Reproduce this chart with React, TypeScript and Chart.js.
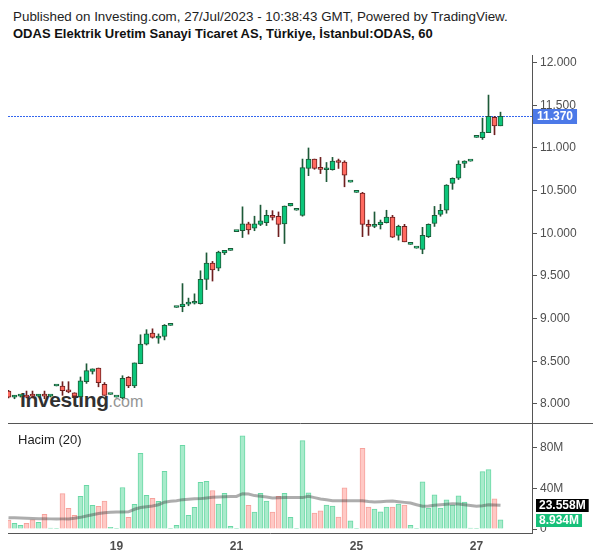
import { useEffect, useRef } from 'react';
import { Chart, registerables } from 'chart.js';

Chart.register(...registerables);

const FONT = '"Liberation Sans", Arial, Helvetica, sans-serif';

// Hourly bars, Jul 17 (partial) .. Jul 27 (partial); index = bar number
const opens = [
  8.15, 8.08, 8.09, 8.10, 8.10, 8.09, 8.10, 8.09, 8.21, 8.21,
  8.155, 8.13, 8.085, 8.26, 8.38, 8.42, 8.23, 8.11, 8.08, 8.07,
  8.31, 8.21, 8.47, 8.70, 8.83, 8.77, 8.79, 8.92, 9.13, 9.14,
  9.17, 9.18, 9.175, 9.46, 9.65, 9.59, 9.77, 9.80, 10.02, 10.03,
  10.11, 10.06, 10.105, 10.125, 10.21, 10.20, 10.11, 10.32, 10.27, 10.21,
  10.76, 10.87, 10.76, 10.745, 10.745, 10.85, 10.835, 10.60, 10.48, 10.47,
  10.10, 10.08, 10.10, 10.125, 10.19, 9.975, 10.08, 9.87, 9.825, 9.81,
  9.96, 10.115, 10.22, 10.27, 10.585, 10.645, 10.82, 10.845, 11.125, 11.12,
  11.18, 11.36, 11.26,
];
const highs = [
  8.16, 8.10, 8.10, 8.15, 8.15, 8.11, 8.15, 8.10, 8.21, 8.26,
  8.26, 8.13, 8.315, 8.47, 8.41, 8.42, 8.25, 8.11, 8.08, 8.33,
  8.32, 8.48, 8.81, 8.87, 8.88, 8.82, 8.93, 8.92, 9.13, 9.41,
  9.24, 9.29, 9.56, 9.77, 9.67, 9.79, 9.80, 9.80, 10.02, 10.31,
  10.13, 10.20, 10.33, 10.27, 10.265, 10.25, 10.32, 10.35, 10.27, 10.87,
  11.00, 10.87, 10.89, 10.83, 10.89, 10.87, 10.85, 10.60, 10.48, 10.48,
  10.155, 10.25, 10.155, 10.27, 10.21, 10.095, 10.105, 9.87, 9.825, 10.07,
  10.11, 10.315, 10.34, 10.57, 10.65, 10.85, 10.85, 10.845, 11.125, 11.35,
  11.62, 11.37, 11.42,
];
const lows = [
  8.07, 8.06, 8.08, 8.07, 8.07, 8.08, 8.06, 8.08, 8.21, 8.10,
  8.13, 8.07, 8.07, 8.24, 8.35, 8.20, 8.10, 8.11, 8.08, 8.06,
  8.19, 8.19, 8.47, 8.69, 8.77, 8.71, 8.75, 8.92, 9.13, 9.08,
  9.15, 9.17, 9.17, 9.34, 9.44, 9.56, 9.75, 9.80, 10.02, 9.95,
  9.99, 10.03, 10.09, 10.09, 10.155, 9.96, 9.88, 10.32, 10.27, 10.20,
  10.675, 10.75, 10.70, 10.605, 10.74, 10.76, 10.545, 10.60, 10.48, 9.96,
  9.975, 10.065, 10.05, 10.12, 9.95, 9.92, 9.90, 9.87, 9.825, 9.76,
  9.95, 10.08, 10.20, 10.235, 10.515, 10.63, 10.77, 10.845, 11.125, 11.10,
  11.18, 11.155, 11.26,
];
const closes = [
  8.08, 8.09, 8.10, 8.08, 8.09, 8.10, 8.09, 8.10, 8.21, 8.155,
  8.14, 8.09, 8.27, 8.39, 8.41, 8.25, 8.10, 8.11, 8.08, 8.30,
  8.21, 8.48, 8.70, 8.82, 8.78, 8.79, 8.92, 8.92, 9.13, 9.17,
  9.18, 9.19, 9.46, 9.65, 9.57, 9.78, 9.80, 9.80, 10.02, 10.11,
  10.04, 10.11, 10.145, 10.21, 10.185, 10.105, 10.32, 10.35, 10.27, 10.77,
  10.87, 10.76, 10.75, 10.76, 10.845, 10.83, 10.68, 10.60, 10.48, 10.105,
  10.08, 10.10, 10.13, 10.19, 9.955, 10.08, 9.90, 9.87, 9.825, 9.975,
  10.105, 10.21, 10.27, 10.565, 10.645, 10.81, 10.845, 10.845, 11.125, 11.185,
  11.37, 11.26, 11.37,
];
// Volume in millions
const volumes = [
  8.9, 5.6, 3.7, 5.6, 9.0, 6.6, 14.5, 1.0, 0.4, 35.0,
  20.4, 13.5, 32.3, 43.1, 23.4, 22.4, 27.6, 1.6, 0.4, 41.0,
  11.5, 24.4, 74.7, 33.2, 30.3, 27.3, 56.9, 0.7, 3.6, 82.6,
  13.5, 21.4, 46.0, 47.0, 38.0, 24.7, 35.3, 2.6, 0.4, 92.0,
  23.4, 16.8, 35.3, 27.6, 16.8, 32.3, 35.3, 11.5, 0.4, 87.3,
  35.7, 15.7, 18.0, 23.7, 22.7, 11.7, 40.7, 8.0, 0.4, 79.7,
  21.7, 19.7, 17.0, 21.7, 21.7, 24.7, 23.7, 3.7, 0.4, 46.7,
  20.7, 33.7, 20.7, 28.7, 23.7, 32.7, 26.7, 1.0, 0.4, 56.7,
  58.7, 29.7, 8.934,
];
// Volume 20-period average, millions
const volumeMA = [
  11.2, 11.0, 10.8, 10.5, 10.3, 10.2, 10.1, 10.0, 9.9, 10.0,
  10.0, 10.6, 11.5, 12.8, 14.0, 15.3, 16.0, 16.5, 16.9, 16.9,
  17.0, 19.5, 21.2, 22.0, 22.7, 24.0, 26.5, 27.3, 28.0, 29.0,
  29.5, 29.8, 30.0, 30.6, 31.3, 31.5, 31.8, 32.0, 32.2, 34.9,
  34.5, 33.0, 32.3, 31.5, 30.6, 30.8, 31.0, 31.0, 31.0, 31.0,
  32.3, 31.0, 29.6, 28.8, 28.0, 28.0, 28.0, 28.0, 28.0, 28.0,
  27.2, 26.7, 27.0, 27.3, 27.6, 27.0, 26.3, 25.7, 24.0, 22.4,
  22.8, 23.4, 24.0, 24.5, 25.0, 24.6, 24.0, 23.3, 22.4, 23.0,
  24.0, 23.8, 23.558,
];

const dayTickIndex = [18, 38, 58, 78];
const dayTickLabels = ['19', '21', '25', '27'];
const priceTicks = [8, 8.5, 9, 9.5, 10, 10.5, 11, 11.5, 12];
const volumeTicks = [0, 40, 80];
const lastPrice = 11.37;
const lastVolume = 8.934;
const lastVolumeMA = 23.558;

const UP_FILL = '#0cc57a';
const UP_LINE = '#1d5a38';
const DOWN_FILL = '#ff6a60';
const DOWN_LINE = '#6e1f1f';
const VOL_UP_FILL = '#a8ebcb';
const VOL_UP_LINE = '#6ad8a6';
const VOL_DOWN_FILL = '#ffc9c5';
const VOL_DOWN_LINE = '#f6a29c';

const X_MIN = -0.5 / 6;
const X_MAX = X_MIN + 524 / 6;
const AXIS_W = 68;

export default function App() {
  const priceRef = useRef<HTMLCanvasElement>(null);
  const volRef = useRef<HTMLCanvasElement>(null);

  useEffect(() => {
    Chart.defaults.font.family = FONT;
    const up = closes.map((c, i) => c >= opens[i]);

    const noPad = (s: any) => {
      s.paddingTop = 0;
      s.paddingBottom = 0;
    };

    const priceOverlay = {
      id: 'priceOverlay',
      beforeDatasetsDraw(chart: any) {
        const { ctx, chartArea, scales } = chart;
        const y = Math.round(scales.y.getPixelForValue(lastPrice)) + 0.5;
        ctx.save();
        ctx.strokeStyle = '#3366ee';
        ctx.lineWidth = 1;
        ctx.setLineDash([2, 1]);
        ctx.beginPath();
        ctx.moveTo(chartArea.left, y);
        ctx.lineTo(chartArea.right, y);
        ctx.stroke();
        ctx.restore();
      },
      afterDraw(chart: any) {
        const { ctx, chartArea, scales } = chart;
        const y = Math.round(scales.y.getPixelForValue(lastPrice)) + 0.5;
        ctx.save();
        ctx.font = 'bold 12px ' + FONT;
        const text = lastPrice.toFixed(3);
        const w = ctx.measureText(text).width + 8;
        ctx.fillStyle = '#4c79e8';
        ctx.fillRect(chartArea.right + 1, y - 7.5, w, 15);
        ctx.fillStyle = '#ffffff';
        ctx.textBaseline = 'middle';
        ctx.textAlign = 'left';
        ctx.fillText(text, chartArea.right + 5, y + 0.5);
        ctx.strokeStyle = '#555555';
        ctx.lineWidth = 1;
        ctx.beginPath();
        ctx.moveTo(chartArea.left, chartArea.bottom - 0.5);
        ctx.lineTo(593, chartArea.bottom - 0.5);
        ctx.stroke();
        ctx.restore();
      },
    };

    const volOverlay = {
      id: 'volOverlay',
      afterDraw(chart: any) {
        const { ctx, chartArea, scales } = chart;
        ctx.save();
        ctx.font = 'bold 12px ' + FONT;
        ctx.textBaseline = 'middle';
        ctx.textAlign = 'left';
        const boxes: [number, string][] = [
          [lastVolumeMA, '#000000'],
          [lastVolume, '#17c07a'],
        ];
        for (const [v, color] of boxes) {
          const y = Math.round(scales.y.getPixelForValue(v)) + 0.5;
          const text = v.toFixed(3) + 'M';
          const w = ctx.measureText(text).width + 6;
          ctx.fillStyle = color;
          ctx.fillRect(chartArea.right + 4, y - 6.5, w, 13);
          ctx.fillStyle = '#ffffff';
          ctx.fillText(text, chartArea.right + 7, y + 0.5);
        }
        ctx.restore();
      },
    };

    const priceChart = new Chart(priceRef.current!, {
      type: 'bar',
      data: {
        datasets: [
          {
            label: 'body',
            data: opens.map((o, i) => ({ x: i, y: [o, closes[i]] })) as any,
            backgroundColor: up.map((u) => (u ? UP_FILL : DOWN_FILL)),
            borderColor: up.map((u) => (u ? UP_LINE : DOWN_LINE)),
            borderWidth: 1,
            borderSkipped: false,
            barThickness: 5,
            minBarLength: 2,
            grouped: false,
            order: 1,
          } as any,
          {
            label: 'wick',
            data: lows.map((l, i) => ({ x: i, y: [l, highs[i]] })) as any,
            backgroundColor: up.map((u) => (u ? UP_LINE : DOWN_LINE)),
            borderWidth: 0,
            barThickness: 1,
            grouped: false,
            order: 2,
          } as any,
        ],
      },
      options: {
        animation: false,
        responsive: false,
        maintainAspectRatio: false,
        layout: { padding: { top: 55, left: 8, right: 0, bottom: 0 } },
        plugins: { legend: { display: false }, tooltip: { enabled: false } },
        scales: {
          x: { type: 'linear', display: false, min: X_MIN, max: X_MAX, offset: false },
          y: {
            position: 'right',
            min: 7.764,
            max: 12.09,
            afterBuildTicks: (s: any) => {
              s.ticks = priceTicks.map((v) => ({ value: v }));
            },
            afterFit: (s: any) => {
              s.width = AXIS_W;
              noPad(s);
            },
            ticks: {
              callback: (v: any) => Number(v).toFixed(3),
              color: '#4f4f4f',
              font: { size: 12, family: FONT },
              padding: 3,
            },
            grid: { drawOnChartArea: false, drawTicks: true, tickLength: 5, color: '#555555' },
            border: { color: '#555555' },
          },
        },
      } as any,
      plugins: [priceOverlay],
    });

    const volChart = new Chart(volRef.current!, {
      type: 'bar',
      data: {
        datasets: [
          {
            type: 'line',
            label: 'ma',
            data: volumeMA.map((v, i) => ({ x: i, y: v })) as any,
            borderColor: 'rgba(60,60,60,0.42)',
            borderWidth: 3,
            pointRadius: 0,
            tension: 0,
            order: 0,
          } as any,
          {
            type: 'bar',
            label: 'volume',
            data: volumes.map((v, i) => ({ x: i, y: v })) as any,
            backgroundColor: up.map((u) => (u ? VOL_UP_FILL : VOL_DOWN_FILL)),
            borderColor: up.map((u) => (u ? VOL_UP_LINE : VOL_DOWN_LINE)),
            borderWidth: 1,
            borderSkipped: 'bottom',
            barThickness: 5,
            grouped: false,
            order: 1,
          } as any,
        ],
      },
      options: {
        animation: false,
        responsive: false,
        maintainAspectRatio: false,
        layout: { padding: { top: 0, left: 8, right: 0, bottom: 0 } },
        plugins: { legend: { display: false }, tooltip: { enabled: false } },
        scales: {
          x: {
            type: 'linear',
            min: X_MIN,
            max: X_MAX,
            offset: false,
            afterBuildTicks: (s: any) => {
              s.ticks = dayTickIndex.map((v) => ({ value: v }));
            },
            afterFit: (s: any) => {
              s.height = 25;
              s.paddingLeft = 0;
              s.paddingRight = 0;
            },
            ticks: {
              autoSkip: false,
              maxRotation: 0,
              callback: (v: any) => {
                const k = dayTickIndex.indexOf(Number(v));
                return k >= 0 ? dayTickLabels[k] : '';
              },
              color: '#4f4f4f',
              font: { size: 12, weight: 'bold', family: FONT },
              padding: 6,
            },
            grid: { display: true, drawOnChartArea: false, drawTicks: false },
            border: { color: '#555555' },
          },
          y: {
            position: 'right',
            min: -3.95,
            max: 103.7,
            afterBuildTicks: (s: any) => {
              s.ticks = volumeTicks.map((v) => ({ value: v }));
            },
            afterFit: (s: any) => {
              s.width = AXIS_W;
              noPad(s);
            },
            ticks: {
              callback: (v: any) => (Number(v) === 0 ? '0' : v + 'M'),
              color: '#4f4f4f',
              font: { size: 12, family: FONT },
              padding: 3,
            },
            grid: { drawOnChartArea: false, drawTicks: true, tickLength: 5, color: '#555555' },
            border: { color: '#555555' },
          },
        },
      } as any,
      plugins: [volOverlay],
    });

    return () => {
      priceChart.destroy();
      volChart.destroy();
    };
  }, []);

  return (
    <div
      style={{
        position: 'absolute',
        left: 0,
        top: 0,
        width: 600,
        height: 558,
        background: '#ffffff',
        fontFamily: FONT,
        overflow: 'hidden',
      }}
    >
      <div
        style={{
          position: 'absolute',
          left: 13,
          top: 9,
          fontSize: 13.4,
          lineHeight: '15px',
          color: '#1e1e1e',
          whiteSpace: 'nowrap',
        }}
      >
        Published on Investing.com, 27/Jul/2023 - 10:38:43 GMT, Powered by TradingView.
      </div>
      <div
        style={{
          position: 'absolute',
          left: 13,
          top: 26,
          fontSize: 13,
          lineHeight: '15px',
          fontWeight: 'bold',
          color: '#111111',
          whiteSpace: 'nowrap',
        }}
      >
        ODAS Elektrik Uretim Sanayi Ticaret AS, Türkiye, İstanbul:ODAS, 60
      </div>
      <div
        style={{
          position: 'absolute',
          left: 20,
          top: 390,
          lineHeight: '20px',
          whiteSpace: 'nowrap',
          opacity: 0.9,
        }}
      >
        <span style={{ fontSize: 21, fontWeight: 'bold', color: '#1a1a1a', letterSpacing: -0.4 }}>Investing</span>
        <span style={{ fontSize: 16, color: '#8a8a8a' }}>.com</span>
      </div>
      <canvas
        ref={priceRef}
        width={600}
        height={424}
        style={{ position: 'absolute', left: 0, top: 0, width: 600, height: 424 }}
      />
      <canvas
        ref={volRef}
        width={600}
        height={134}
        style={{ position: 'absolute', left: 0, top: 424, width: 600, height: 134 }}
      />
      <div
        style={{
          position: 'absolute',
          left: 18,
          top: 432,
          fontSize: 13,
          lineHeight: '15px',
          color: '#1e1e1e',
          whiteSpace: 'nowrap',
        }}
      >
        Hacim (20)
      </div>
    </div>
  );
}
